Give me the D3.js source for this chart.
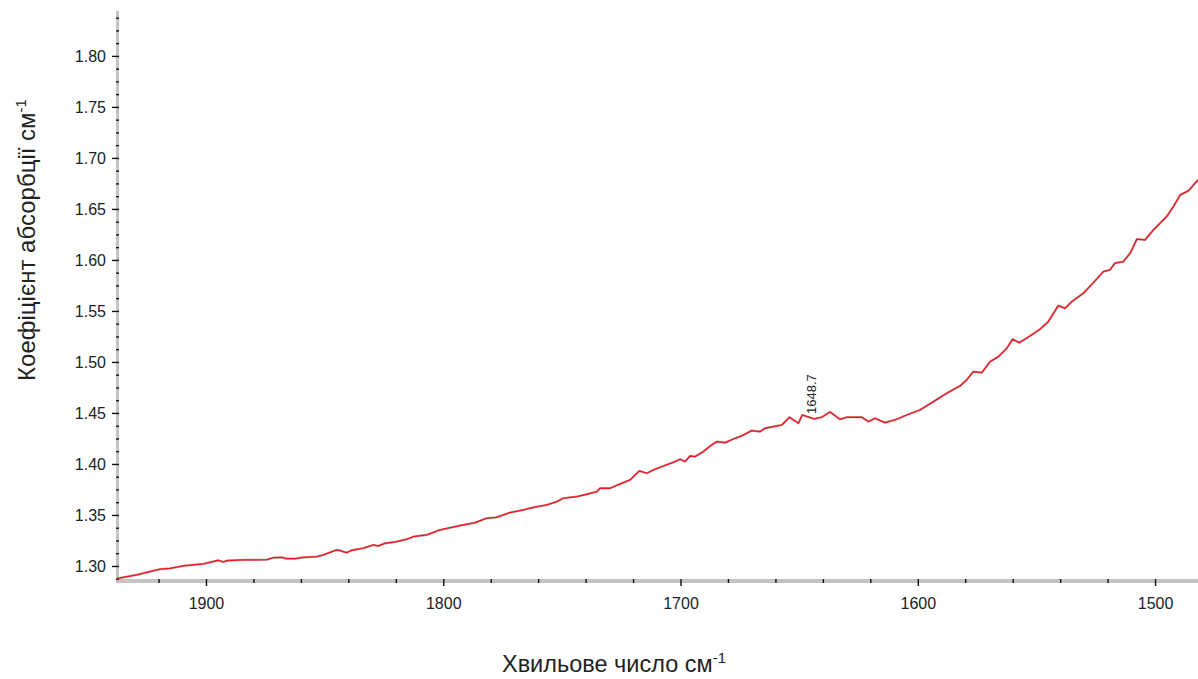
<!DOCTYPE html>
<html>
<head>
<meta charset="utf-8">
<script src="https://cdn.jsdelivr.net/npm/d3@7"></script>
<style>
  body { margin: 0; background: #fff; }
  #chart text { font-family: "Liberation Sans", Arial, sans-serif; fill: #222; }
</style>
</head>
<body>
<div id="chart"></div>
<script>
// wavenumber (cm-1) and absorption
var wavenumbers = [1937.5, 1935.5, 1929.2, 1923.6, 1919.4, 1915.2, 1909.6, 1901.1, 1898.3, 1894.8,
  1892.7, 1891.3, 1884.3, 1874.4, 1871.6, 1868.1, 1866.0, 1862.5, 1859.0, 1853.3,
  1850.6, 1847.7, 1844.9, 1843.5, 1840.7, 1838.6, 1833.7, 1829.5, 1827.4, 1824.6,
  1819.6, 1815.4, 1812.6, 1807.0, 1801.4, 1793.0, 1786.5, 1781.7, 1777.5, 1771.9,
  1766.3, 1762.0, 1756.4, 1752.2, 1749.4, 1743.8, 1739.5, 1735.3, 1733.9, 1729.7,
  1725.5, 1721.3, 1717.4, 1714.2, 1711.5, 1707.2, 1702.3, 1700.2, 1698.1, 1696.0,
  1693.9, 1690.4, 1686.9, 1684.7, 1681.2, 1677.0, 1674.2, 1670.0, 1666.5, 1664.4,
  1660.9, 1657.3, 1654.1, 1650.3, 1648.7, 1643.7, 1640.5, 1637.0, 1632.8, 1629.9,
  1623.6, 1620.8, 1618.0, 1613.8, 1608.9, 1604.7, 1599.1, 1593.4, 1587.8, 1582.2,
  1579.4, 1576.6, 1573.0, 1569.5, 1566.0, 1562.5, 1560.0, 1557.2, 1552.7, 1548.5,
  1545.0, 1540.8, 1537.9, 1535.1, 1530.2, 1526.0, 1521.8, 1519.0, 1516.9, 1513.4,
  1510.5, 1507.7, 1504.2, 1500.7, 1495.1, 1492.3, 1489.4, 1485.9, 1481.9];
var absorbance = [1.2875, 1.2885, 1.2912, 1.2944, 1.2968, 1.2977, 1.3000, 1.3020, 1.3036, 1.3056,
  1.3039, 1.3052, 1.3059, 1.3062, 1.3081, 1.3085, 1.3072, 1.3072, 1.3085, 1.3091,
  1.3108, 1.3134, 1.3157, 1.3150, 1.3130, 1.3154, 1.3174, 1.3206, 1.3196, 1.3222,
  1.3238, 1.3262, 1.3287, 1.3304, 1.3353, 1.3395, 1.3425, 1.3468, 1.3477, 1.3523,
  1.3549, 1.3575, 1.3598, 1.3630, 1.3664, 1.3679, 1.3703, 1.3728, 1.3762, 1.3762,
  1.3804, 1.3843, 1.3931, 1.3909, 1.3941, 1.3980, 1.4023, 1.4046, 1.4023, 1.4078,
  1.4072, 1.4121, 1.4186, 1.4219, 1.4209, 1.4252, 1.4275, 1.4327, 1.4317, 1.4350,
  1.4366, 1.4382, 1.4458, 1.4399, 1.4480, 1.4441, 1.4458, 1.4510, 1.4438, 1.4458,
  1.4458, 1.4415, 1.4448, 1.4405, 1.4438, 1.4480, 1.4529, 1.4611, 1.4693, 1.4765,
  1.4824, 1.4905, 1.4895, 1.5003, 1.5052, 1.5134, 1.5223, 1.5189, 1.5255, 1.5321,
  1.5395, 1.5552, 1.5526, 1.5591, 1.5674, 1.5777, 1.5885, 1.5902, 1.5968, 1.5983,
  1.6066, 1.6203, 1.6196, 1.6294, 1.6425, 1.6523, 1.6637, 1.6679, 1.6784];

var xTicks = [1900, 1800, 1700, 1600, 1500];
var yTicks = [1.30, 1.35, 1.40, 1.45, 1.50, 1.55, 1.60, 1.65, 1.70, 1.75, 1.80];
var peakLabels = [1648.7];

var xTitle = "Хвильове число см";
var yTitle = "Коефіцієнт абсорбції см";

var w = 1198;
var h = 679;

var x = d3.scaleLinear().domain([1937.5, 1481.9]).range([117, 1198]);
var y = d3.scaleLinear().domain([1.2882, 1.845]).range([578, 10]);

var svg = d3.select("#chart").append("svg")
    .attr("width", w)
    .attr("height", h);

// minor ticks: every 20 cm-1 on x, every 0.0125 on y
var xMinor = d3.range(1480, 1940, 20).filter(function(v) { return v % 100 !== 0; });
var yMinor = d3.range(1.2875, 1.845, 0.0125).filter(function(v) {
    return Math.abs(v * 20 - Math.round(v * 20)) > 0.01;
});

// axis lines (grey bands)
svg.append("line")
    .attr("x1", 117).attr("x2", 1198).attr("y1", 581).attr("y2", 581)
    .attr("stroke", "#c4c4c4").attr("stroke-width", 4);
svg.append("line")
    .attr("x1", 117.5).attr("x2", 117.5).attr("y1", 11).attr("y2", 583)
    .attr("stroke", "#c4c4c4").attr("stroke-width", 3);

// x axis ticks and labels
var xAxis = svg.append("g")
    .attr("transform", "translate(0,579)")
    .call(d3.axisBottom(x).tickValues(xTicks).tickSize(7).tickPadding(12)
        .tickFormat(d3.format("d")).tickSizeOuter(0));
var xAxisMinor = svg.append("g")
    .attr("transform", "translate(0,579)")
    .call(d3.axisBottom(x).tickValues(xMinor).tickSize(4).tickFormat("").tickSizeOuter(0));

// y axis ticks and labels
var yAxis = svg.append("g")
    .attr("transform", "translate(119,0)")
    .call(d3.axisLeft(y).tickValues(yTicks).tickSize(7).tickPadding(6)
        .tickFormat(d3.format(".2f")).tickSizeOuter(0));
var yAxisMinor = svg.append("g")
    .attr("transform", "translate(119,0)")
    .call(d3.axisLeft(y).tickValues(yMinor).tickSize(3).tickFormat("").tickSizeOuter(0));

svg.selectAll(".domain").remove();
svg.selectAll(".tick line").attr("stroke", "#111").attr("stroke-width", 1.4);
xAxis.selectAll("text").style("font-size", "16px").attr("fill", "#222");
yAxis.selectAll("text").style("font-size", "16px").attr("fill", "#222");

// spectrum line
var line = d3.line()
    .x(function(d) { return x(d[0]); })
    .y(function(d) { return y(d[1]); });

var points = wavenumbers.map(function(v, i) { return [v, absorbance[i]]; });

svg.append("path")
    .datum(points)
    .attr("d", line)
    .attr("fill", "none")
    .attr("stroke", "#7a1a1a")
    .attr("stroke-opacity", 0.45)
    .attr("stroke-width", 2.2)
    .attr("stroke-linejoin", "round");
svg.append("path")
    .datum(points)
    .attr("d", line)
    .attr("fill", "none")
    .attr("stroke", "#ee1822")
    .attr("stroke-width", 1.3)
    .attr("stroke-linejoin", "round");

// peak annotation
peakLabels.forEach(function(p) {
    var i = wavenumbers.indexOf(p);
    var px = x(p) + 14;
    var py = y(absorbance[i]) - 1;
    svg.append("text")
        .attr("transform", "translate(" + px + "," + py + ") rotate(-90)")
        .style("font-size", "13px")
        .text(p.toFixed(1));
});

// axis titles
var xt = svg.append("text")
    .attr("x", 614).attr("y", 672)
    .attr("text-anchor", "middle")
    .style("font-size", "23.5px");
xt.append("tspan").text(xTitle);
xt.append("tspan").attr("dy", -9).style("font-size", "15px").text("-1");

var yt = svg.append("text")
    .attr("transform", "translate(35,240) rotate(-90)")
    .attr("text-anchor", "middle")
    .style("font-size", "24px");
yt.append("tspan").text(yTitle);
yt.append("tspan").attr("dy", -9).style("font-size", "15px").text("-1");
</script>
</body>
</html>
